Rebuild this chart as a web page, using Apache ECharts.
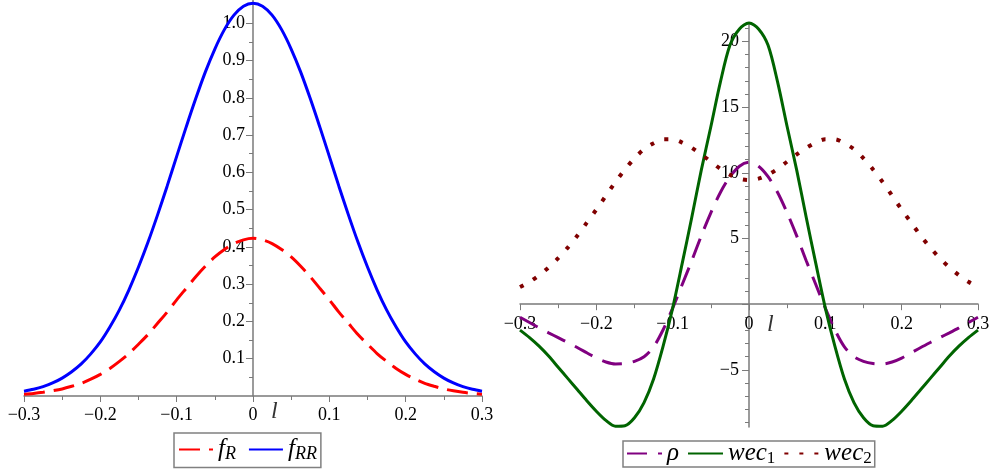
<!DOCTYPE html>
<html>
<head>
<meta charset="utf-8">
<script src="https://cdn.jsdelivr.net/npm/echarts@6/dist/echarts.min.js"></script>
<style>
html, body { margin: 0; padding: 0; background: #fff; }
#main { width: 994px; height: 474px; }
</style>
</head>
<body>
<div id="main"></div>
<script>
// l values shared by both panels
var lVals = [-0.3, -0.2875, -0.275, -0.2625, -0.25, -0.2375, -0.225, -0.2125, -0.2, -0.1875, -0.175, -0.1625,
             -0.15, -0.1375, -0.125, -0.1125, -0.1, -0.0875, -0.075, -0.0625, -0.05, -0.0375, -0.025, -0.0125, 0,
             0.0125, 0.025, 0.0375, 0.05, 0.0625, 0.075, 0.0875, 0.1, 0.1125, 0.125, 0.1375, 0.15,
             0.1625, 0.175, 0.1875, 0.2, 0.2125, 0.225, 0.2375, 0.25, 0.2625, 0.275, 0.2875, 0.3];

// left panel
var fR  = [0.005, 0.007, 0.010, 0.014, 0.019, 0.026, 0.034, 0.045, 0.058, 0.074, 0.093, 0.114,
           0.139, 0.165, 0.195, 0.225, 0.258, 0.289, 0.320, 0.348, 0.373, 0.393, 0.409, 0.419, 0.423,
           0.419, 0.409, 0.393, 0.373, 0.348, 0.320, 0.289, 0.258, 0.225, 0.195, 0.165, 0.139,
           0.114, 0.093, 0.074, 0.058, 0.045, 0.034, 0.026, 0.019, 0.014, 0.010, 0.007, 0.005];
var fRR = [0.013, 0.018, 0.025, 0.035, 0.048, 0.065, 0.086, 0.113, 0.145, 0.185, 0.231, 0.285,
           0.346, 0.413, 0.486, 0.563, 0.643, 0.722, 0.798, 0.869, 0.931, 0.983, 1.022, 1.046, 1.054,
           1.046, 1.022, 0.983, 0.931, 0.869, 0.798, 0.722, 0.643, 0.563, 0.486, 0.413, 0.346,
           0.285, 0.231, 0.185, 0.145, 0.113, 0.086, 0.065, 0.048, 0.035, 0.025, 0.018, 0.013];

// right panel
var rho  = [-1.0, -1.4, -1.8, -2.18, -2.55, -2.92, -3.3, -3.7, -4.1, -4.4, -4.55, -4.52,
            -4.35, -4.0, -3.25, -1.95, -0.3, 1.5, 3.3, 5.2, 6.95, 8.5, 9.7, 10.5, 10.8,
            10.5, 9.7, 8.5, 6.95, 5.2, 3.3, 1.5, -0.3, -1.95, -3.25, -4.0, -4.35,
            -4.52, -4.55, -4.4, -4.1, -3.7, -3.3, -2.92, -2.55, -2.18, -1.8, -1.4, -1.0];
var wec1 = [-1.98, -2.55, -3.2, -3.95, -4.8, -5.65, -6.5, -7.35, -8.15, -8.85, -9.29, -9.25,
            -8.65, -7.5, -5.7, -3.2, -0.3, 3.1, 6.6, 10.2, 13.5, 16.9, 19.7, 20.95, 21.4,
            20.95, 19.7, 16.9, 13.5, 10.2, 6.6, 3.1, -0.3, -3.2, -5.7, -7.5, -8.65,
            -9.25, -9.29, -8.85, -8.15, -7.35, -6.5, -5.65, -4.8, -3.95, -3.2, -2.55, -1.98];
var wec2 = [1.3, 1.7, 2.2, 2.8, 3.5, 4.3, 5.2, 6.2, 7.2, 8.25, 9.3, 10.25,
            11.1, 11.8, 12.25, 12.55, 12.55, 12.3, 11.9, 11.4, 10.85, 10.3, 9.85, 9.55, 9.45,
            9.55, 9.85, 10.3, 10.85, 11.4, 11.9, 12.3, 12.55, 12.55, 12.25, 11.8, 11.1,
            10.25, 9.3, 8.25, 7.2, 6.2, 5.2, 4.3, 3.5, 2.8, 2.2, 1.7, 1.3];

// tick / label values
var leftYLabels = [0.1, 0.2, 0.3, 0.4, 0.5, 0.6, 0.7, 0.8, 0.9, 1.0];
var leftYMinor = [0.05, 0.15, 0.25, 0.35, 0.45, 0.55, 0.65, 0.75, 0.85, 0.95, 1.05];
var rightYLabels = [-5, 5, 10, 15, 20];
var rightYTicks = [-5, 0, 5, 10, 15, 20];
var rightYMinor = [-9, -8, -7, -6, -4, -3, -2, -1, 1, 2, 3, 4, 6, 7, 8, 9, 11, 12, 13, 14, 16, 17, 18, 19, 21];

function pairs(ys) {
    return lVals.map(function (x, i) { return [x, ys[i]]; });
}

var serif = 'Liberation Serif';
var axisColor = '#7a7a7a';
var smoothness = 0.3;

function fmtX(v) {
    if (Math.abs(v) < 1e-9) return '0';
    return (v < 0 ? '\u2212' : '') + Math.abs(v).toFixed(1);
}

function xAxisOpt(grid, margin, offset) {
    return {
        type: 'value', gridIndex: grid, min: -0.3, max: 0.3, interval: 0.1,
        position: 'bottom', offset: offset,
        axisLine: { onZero: false, lineStyle: { color: axisColor, width: 1.5 } },
        axisTick: { length: 6, lineStyle: { color: axisColor } },
        minorTick: { show: true, splitNumber: 2, length: 4, lineStyle: { color: axisColor } },
        axisLabel: { formatter: fmtX, color: '#000', fontFamily: serif, fontSize: 18, margin: margin },
        splitLine: { show: false }
    };
}

var richLegend = {
    i: { fontFamily: serif, fontStyle: 'italic', fontSize: 25, color: '#000' },
    s: { fontFamily: serif, fontStyle: 'italic', fontSize: 18, color: '#000', padding: [10, 0, 0, 0] },
    n: { fontFamily: serif, fontSize: 17, color: '#000', padding: [10, 0, 0, 0] }
};
var legendLabels = {
    'fR': '{i|f}{s|R}',
    'fRR': '{i|f}{s|RR}',
    'rho': '{i|\u03c1}',
    'wec1': '{i|wec}{n|1}',
    'wec2': '{i|wec}{n|2}'
};

var chart = echarts.init(document.getElementById('main'));
var option = {
    animation: false,
    backgroundColor: '#fff',
    grid: [
        { left: 24, top: 0, width: 458, height: 396 },
        { left: 520, top: 23, width: 458, height: 404 }
    ],
    xAxis: [xAxisOpt(0, 10, 0), xAxisOpt(1, 11, -122.8)],
    yAxis: [
        {
            type: 'value', gridIndex: 0, min: 0, max: 1.0625, position: 'left', offset: -229,
            axisLine: { onZero: false, lineStyle: { color: axisColor, width: 1.5 } },
            axisTick: { customValues: leftYLabels, length: 7, lineStyle: { color: axisColor } },
            axisLabel: { customValues: leftYLabels, formatter: function (v) { return v.toFixed(1); },
                         color: '#000', fontFamily: serif, fontSize: 18, margin: 8 },
            splitLine: { show: false }
        },
        {
            type: 'value', gridIndex: 0, min: 0, max: 1.0625, position: 'right', offset: -229,
            axisLine: { show: false, onZero: false },
            axisTick: { inside: true, customValues: leftYMinor, length: 4, lineStyle: { color: axisColor } },
            axisLabel: { show: false },
            splitLine: { show: false }
        },
        {
            type: 'value', gridIndex: 1, min: -9.35, max: 21.4, position: 'left', offset: -229,
            axisLine: { onZero: false, lineStyle: { color: axisColor, width: 1.5 } },
            axisTick: { customValues: rightYTicks, length: 7, lineStyle: { color: axisColor } },
            axisLabel: { customValues: rightYLabels,
                         formatter: function (v) { return (v < 0 ? '\u2212' : '') + Math.abs(v); },
                         color: '#000', fontFamily: serif, fontSize: 18, margin: 10 },
            splitLine: { show: false }
        },
        {
            type: 'value', gridIndex: 1, min: -9.35, max: 21.4, position: 'right', offset: -229,
            axisLine: { show: false, onZero: false },
            axisTick: { inside: true, customValues: rightYMinor, length: 4, lineStyle: { color: axisColor } },
            axisLabel: { show: false },
            splitLine: { show: false }
        }
    ],
    legend: [
        {
            left: 174, top: 433, padding: [4, 4, 4, 4], itemGap: 12, itemWidth: 34, itemHeight: 14,
            borderColor: '#808080', borderWidth: 1.5,
            itemStyle: { opacity: 0 },
            data: ['fR', 'fRR'],
            formatter: function (n) { return legendLabels[n]; },
            textStyle: { rich: richLegend }
        },
        {
            left: 623, top: 441, padding: [0, 3, 0, 3], itemGap: 8, itemWidth: 35, itemHeight: 14,
            borderColor: '#808080', borderWidth: 1.5,
            itemStyle: { opacity: 0 },
            data: ['rho', 'wec1', 'wec2'],
            formatter: function (n) { return legendLabels[n]; },
            textStyle: { rich: richLegend }
        }
    ],
    graphic: [
        { type: 'text', left: 271, top: 400, style: { text: 'l', font: 'italic 24px "Liberation Serif"', fill: '#333' } },
        { type: 'text', left: 767, top: 313, style: { text: 'l', font: 'italic 24px "Liberation Serif"', fill: '#333' } }
    ],
    series: [
        {
            name: 'fR', type: 'line', xAxisIndex: 0, yAxisIndex: 0, data: pairs(fR),
            smooth: smoothness, symbol: 'none', clip: false, color: '#ff0000',
            lineStyle: { color: '#ff0000', width: 3, type: [21, 9] }
        },
        {
            name: 'fRR', type: 'line', xAxisIndex: 0, yAxisIndex: 0, data: pairs(fRR),
            smooth: smoothness, symbol: 'none', clip: false, color: '#0000ff',
            lineStyle: { color: '#0000ff', width: 3 }
        },
        {
            name: 'rho', type: 'line', xAxisIndex: 1, yAxisIndex: 2, data: pairs(rho),
            smooth: smoothness, symbol: 'none', clip: false, color: '#800080',
            lineStyle: { color: '#800080', width: 3, type: [20, 11] }
        },
        {
            name: 'wec1', type: 'line', xAxisIndex: 1, yAxisIndex: 2, data: pairs(wec1),
            smooth: smoothness, symbol: 'none', clip: false, color: '#006400',
            lineStyle: { color: '#006400', width: 3 }
        },
        {
            name: 'wec2', type: 'line', xAxisIndex: 1, yAxisIndex: 2, data: pairs(wec2),
            smooth: smoothness, symbol: 'none', clip: false, color: '#800000',
            lineStyle: { color: '#800000', width: 4, type: [4, 11] }
        }
    ]
};
chart.setOption(option);
</script>
</body>
</html>
